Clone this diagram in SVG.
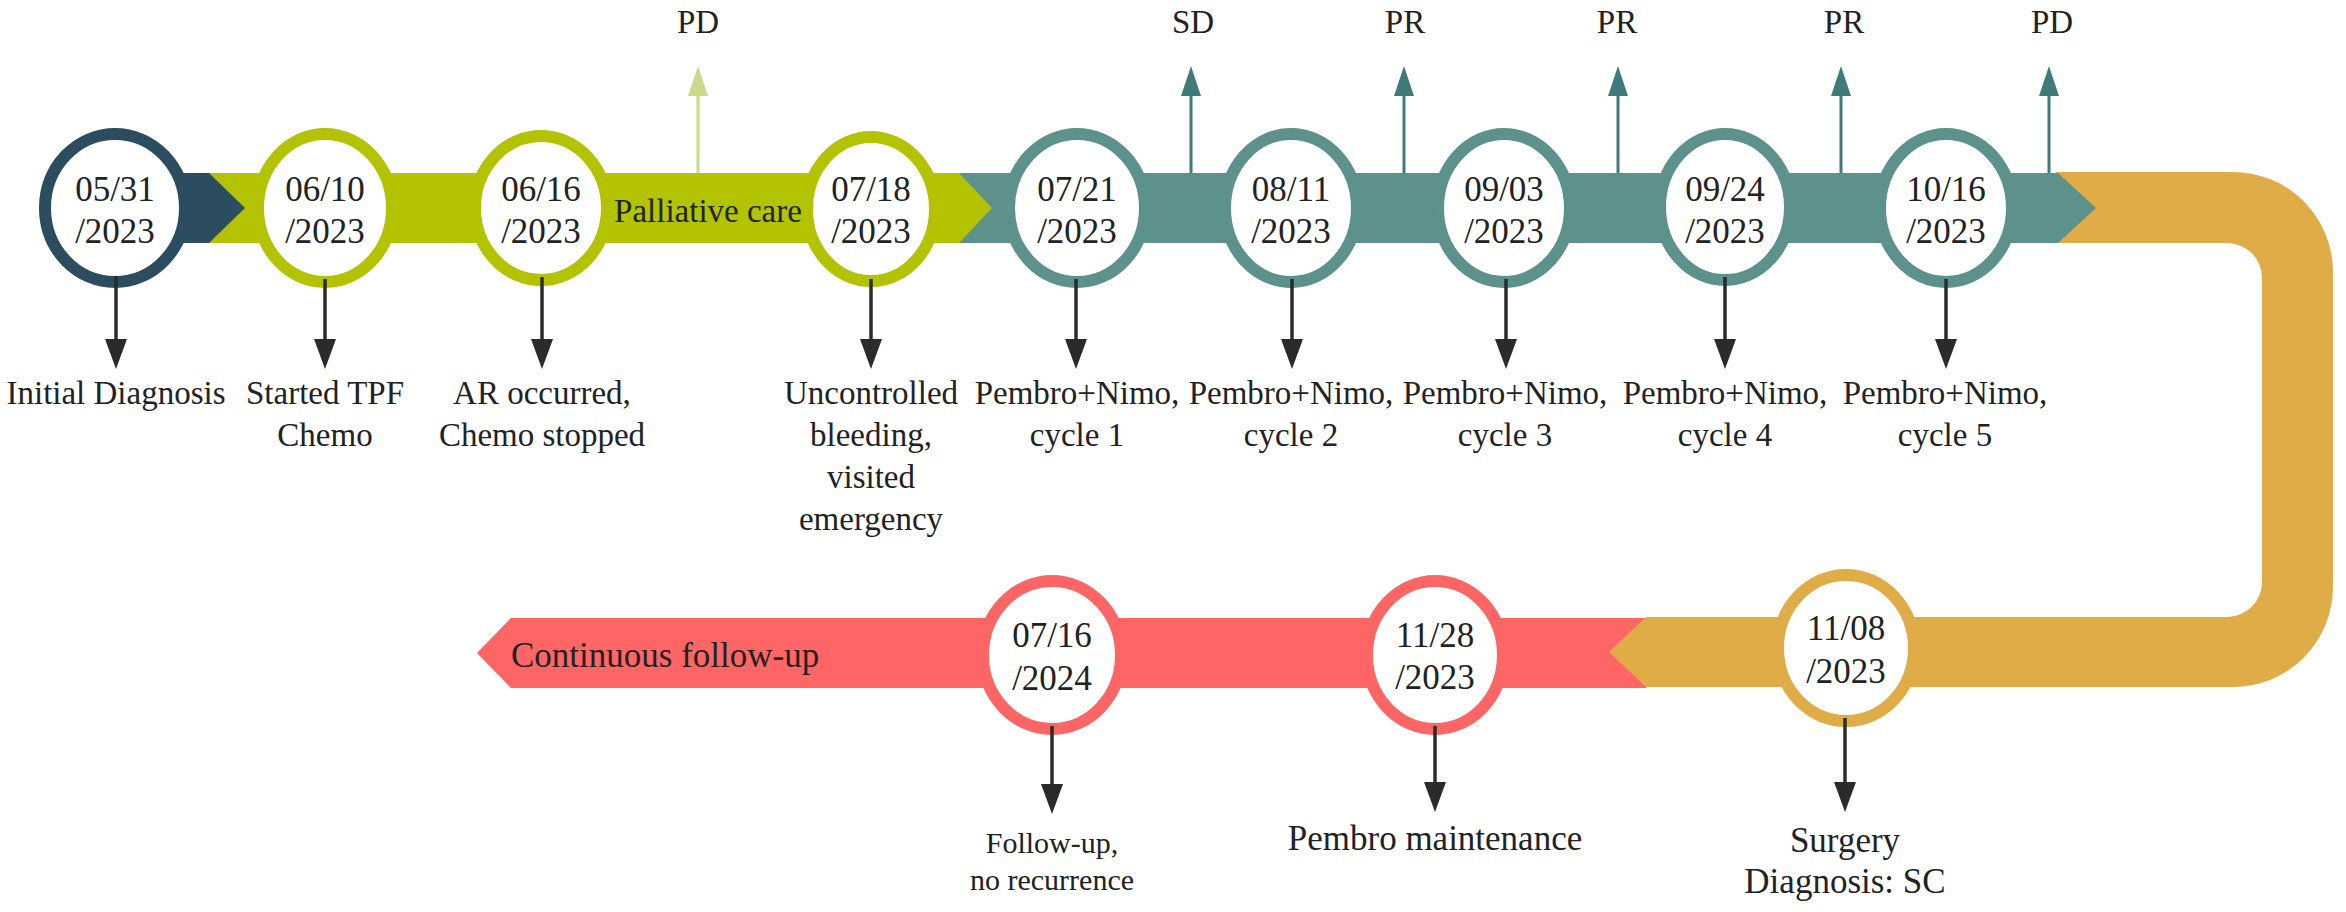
<svg xmlns="http://www.w3.org/2000/svg" width="2346" height="912" viewBox="0 0 2346 912">
<style>
text{font-family:"Liberation Serif","Times New Roman",serif;fill:#222;text-anchor:middle}
.d{font-size:35px}
.l{font-size:33px}
.L{font-size:35px}
.s{font-size:30px}
.ring{fill:#fff;stroke-width:12}
.navy{stroke:#2b4d5f}
.grn{stroke:#b3c301}
.teal{stroke:#5d918b}
.gold{stroke:#e0ac48}
.red{stroke:#fe6565}
.dn{stroke:#2b2b2b;stroke-width:3.5;fill:none;marker-end:url(#ab)}
.upt{stroke:#3e7b79;stroke-width:3;fill:none;marker-end:url(#at)}
.upg{stroke:#cbd98b;stroke-width:3;fill:none;marker-end:url(#ag)}
</style>
<defs>
<marker id="ab" markerUnits="userSpaceOnUse" markerWidth="32" markerHeight="24" refX="22" refY="11" orient="auto"><path d="M0,0 L30,11 L0,22 Z" fill="#2b2b2b"/></marker>
<marker id="at" markerUnits="userSpaceOnUse" markerWidth="32" markerHeight="24" refX="22" refY="10" orient="auto"><path d="M0,0 L30,10 L0,20 Z" fill="#3e7b79"/></marker>
<marker id="ag" markerUnits="userSpaceOnUse" markerWidth="32" markerHeight="24" refX="22" refY="10" orient="auto"><path d="M0,0 L30,10 L0,20 Z" fill="#cbd98b"/></marker>
</defs>
<rect width="2346" height="912" fill="#fff"/>
<g id="bands">
<polygon points="1646,618 511,618 477,653 511,688 1646,688" fill="#fe6565"/>
<path d="M2056,172 H2233 A100,100 0 0 1 2333,272 V587 A100,100 0 0 1 2233,687 H1646 L1609,652 L1646,617 H2227 A35,35 0 0 0 2262,582 V278 A35,35 0 0 0 2227,243 H2056 Z" fill="#e0ac48"/>
<polygon points="959,173 2058,173 2096,208 2058,243 959,243" fill="#5d918b"/>
<polygon points="209,173 959,173 992,208 959,243 209,243" fill="#b3c301"/>
<polygon points="115,173 209,173 245,208 209,243 115,243" fill="#2b4d5f"/>
<text class="l" x="708" y="222">Palliative care</text>
<text class="L" x="511" y="667" style="text-anchor:start">Continuous follow-up</text>
</g>
<g id="n1"><ellipse class="ring navy" cx="115" cy="208" rx="70" ry="74"/><text class="d" x="115" y="201">05/31</text><text class="d" x="115" y="243">/2023</text><text class="l" x="116" y="404">Initial Diagnosis</text></g>
<g id="n2"><ellipse class="ring grn" cx="325" cy="208" rx="67" ry="74"/><text class="d" x="325" y="201">06/10</text><text class="d" x="325" y="243">/2023</text><text class="l" x="325" y="404">Started TPF</text><text class="l" x="325" y="446">Chemo</text></g>
<g id="n3"><ellipse class="ring grn" cx="541" cy="208" rx="66" ry="72"/><text class="d" x="541" y="201">06/16</text><text class="d" x="541" y="243">/2023</text><text class="l" x="542" y="404">AR occurred,</text><text class="l" x="542" y="446">Chemo stopped</text></g>
<g id="pd1"><text class="l" x="698" y="33">PD</text></g>
<g id="n4"><ellipse class="ring grn" cx="871" cy="209" rx="64" ry="72"/><text class="d" x="871" y="201">07/18</text><text class="d" x="871" y="243">/2023</text><text class="l" x="871" y="404">Uncontrolled</text><text class="l" x="871" y="446">bleeding,</text><text class="l" x="871" y="488">visited</text><text class="l" x="871" y="530">emergency</text></g>
<g id="n5"><ellipse class="ring teal" cx="1077" cy="208" rx="68" ry="74"/><text class="d" x="1077" y="201">07/21</text><text class="d" x="1077" y="243">/2023</text><text class="l" x="1077" y="404">Pembro+Nimo,</text><text class="l" x="1077" y="446">cycle 1</text></g>
<g id="n6"><ellipse class="ring teal" cx="1291" cy="208" rx="66" ry="74"/><text class="d" x="1291" y="201">08/11</text><text class="d" x="1291" y="243">/2023</text><text class="l" x="1291" y="404">Pembro+Nimo,</text><text class="l" x="1291" y="446">cycle 2</text></g>
<g id="n7"><ellipse class="ring teal" cx="1504" cy="208" rx="66" ry="74"/><text class="d" x="1504" y="201">09/03</text><text class="d" x="1504" y="243">/2023</text><text class="l" x="1505" y="404">Pembro+Nimo,</text><text class="l" x="1505" y="446">cycle 3</text></g>
<g id="n8"><ellipse class="ring teal" cx="1725" cy="207" rx="65" ry="73"/><text class="d" x="1725" y="201">09/24</text><text class="d" x="1725" y="243">/2023</text><text class="l" x="1725" y="404">Pembro+Nimo,</text><text class="l" x="1725" y="446">cycle 4</text></g>
<g id="n9"><ellipse class="ring teal" cx="1946" cy="208" rx="66" ry="74"/><text class="d" x="1946" y="201">10/16</text><text class="d" x="1946" y="243">/2023</text><text class="l" x="1945" y="404">Pembro+Nimo,</text><text class="l" x="1945" y="446">cycle 5</text></g>
<g id="tops"><text class="l" x="1193" y="33">SD</text><text class="l" x="1405" y="33">PR</text><text class="l" x="1617" y="33">PR</text><text class="l" x="1844" y="33">PR</text><text class="l" x="2052" y="33">PD</text></g>
<g id="n10"><ellipse class="ring gold" cx="1846" cy="648" rx="68" ry="73"/><text class="d" x="1846" y="640">11/08</text><text class="d" x="1846" y="683">/2023</text><text class="L" x="1845" y="852">Surgery</text><text class="L" x="1845" y="893">Diagnosis: SC</text></g>
<g id="n11"><ellipse class="ring red" cx="1435" cy="655" rx="68" ry="74"/><text class="d" x="1435" y="647">11/28</text><text class="d" x="1435" y="689">/2023</text><text class="L" x="1435" y="850">Pembro maintenance</text></g>
<g id="n12"><ellipse class="ring red" cx="1052" cy="655" rx="69" ry="74"/><text class="d" x="1052" y="647">07/16</text><text class="d" x="1052" y="690">/2024</text><text class="s" x="1052" y="853">Follow-up,</text><text class="s" x="1052" y="890">no recurrence</text></g>
<g id="connectors">
<line class="dn" x1="116" y1="276" x2="116" y2="361"/>
<line class="dn" x1="325" y1="279" x2="325" y2="361"/>
<line class="dn" x1="542" y1="277" x2="542" y2="361"/>
<line class="dn" x1="871" y1="279" x2="871" y2="361"/>
<line class="dn" x1="1076" y1="279" x2="1076" y2="361"/>
<line class="dn" x1="1292" y1="279" x2="1292" y2="361"/>
<line class="dn" x1="1506" y1="279" x2="1506" y2="361"/>
<line class="dn" x1="1725" y1="277" x2="1725" y2="361"/>
<line class="dn" x1="1946" y1="279" x2="1946" y2="361"/>
<line class="dn" x1="1845" y1="718" x2="1845" y2="804"/>
<line class="dn" x1="1435" y1="726" x2="1435" y2="804"/>
<line class="dn" x1="1052" y1="726" x2="1052" y2="806"/>
<line class="upg" x1="698" y1="173" x2="698" y2="74"/>
<line class="upt" x1="1191" y1="173" x2="1191" y2="74"/>
<line class="upt" x1="1404" y1="173" x2="1404" y2="74"/>
<line class="upt" x1="1618" y1="173" x2="1618" y2="74"/>
<line class="upt" x1="1841" y1="173" x2="1841" y2="74"/>
<line class="upt" x1="2049" y1="173" x2="2049" y2="74"/>
</g>
</svg>
